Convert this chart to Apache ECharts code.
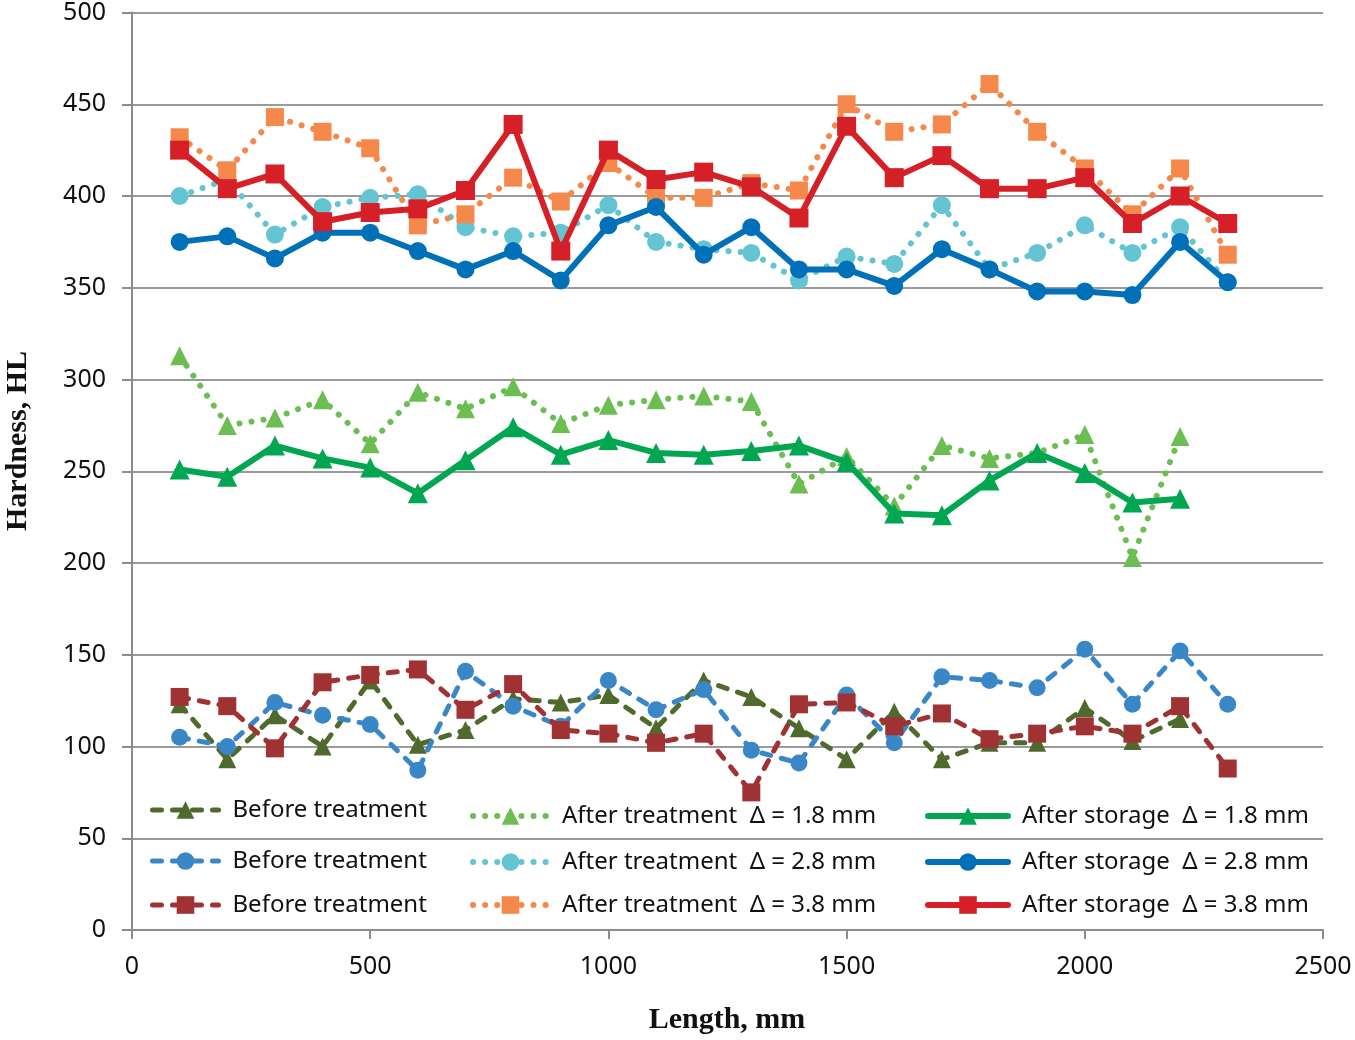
<!DOCTYPE html>
<html>
<head>
<meta charset="utf-8">
<script src="https://cdn.jsdelivr.net/npm/echarts@6/dist/echarts.min.js"></script>
<style>
html,body{margin:0;padding:0;background:#fff;}
#chart{width:1355px;height:1040px;}
</style>
</head>
<body>
<div id="chart"></div>
<script>
// ---- data ----
var lengths = [100,200,300,400,500,600,700,800,900,1000,1100,1200,1300,1400,1500,1600,1700,1800,1900,2000,2100,2200,2300];
var xTicks = [0,500,1000,1500,2000,2500];
var yTicks = [0,50,100,150,200,250,300,350,400,450,500];

var before18 = [123,93,117,100,136,101,109,126,124,128,110,136,127,110,93,119,93,102,102,121,103,115];
var before28 = [105,100,124,117,112,87,141,122,111,136,120,131,98,91,128,102,138,136,132,153,123,152,123];
var before38 = [127,122,99,135,139,142,120,134,109,107,102,107,75,123,124,111,118,104,107,111,107,122,88];

var afterT18 = [313,275,279,289,265,293,284,296,276,286,289,291,288,243,258,231,264,257,260,270,203,269];
var afterT28 = [400,409,379,394,399,401,383,378,380,395,375,371,369,354,367,363,395,360,369,384,369,383,353];
var afterT38 = [432,414,443,435,426,384,390,410,397,418,399,399,407,403,450,435,439,461,435,415,390,415,368];

var afterS18 = [251,247,264,257,252,238,256,274,259,267,260,259,261,264,255,227,226,245,260,249,233,235];
var afterS28 = [375,378,366,380,380,370,360,370,354,384,394,368,383,360,360,351,371,360,348,348,346,375,353];
var afterS38 = [425,404,412,386,391,393,403,439,370,425,409,413,405,388,438,410,422,404,404,410,385,400,385];

var seriesNames = [
  'Before treatment Δ = 1.8 mm', 'Before treatment Δ = 2.8 mm', 'Before treatment Δ = 3.8 mm',
  'After treatment  Δ = 1.8 mm', 'After treatment  Δ = 2.8 mm', 'After treatment  Δ = 3.8 mm',
  'After storage  Δ = 1.8 mm', 'After storage  Δ = 2.8 mm', 'After storage  Δ = 3.8 mm'
];
var legendLabels = [
  'Before treatment', 'Before treatment', 'Before treatment',
  'After treatment  Δ = 1.8 mm', 'After treatment  Δ = 2.8 mm', 'After treatment  Δ = 3.8 mm',
  'After storage  Δ = 1.8 mm', 'After storage  Δ = 2.8 mm', 'After storage  Δ = 3.8 mm'
];
var seriesValues = [before18, before28, before38, afterT18, afterT28, afterT38, afterS18, afterS28, afterS38];

// ---- styles ----
var colors = ['#4F6A2C','#3A87C8','#A03234','#6DBE52','#65C4D2','#F4894B','#00A650','#0071B9','#D52027'];
var symbols = ['triangle','circle','rect','triangle','circle','rect','triangle','circle','rect'];
var symbolSizes = [18,17,18,19,18,18,20,18,19];
var lineTypes = [[9,11],[9,11],[9,11],[0.1,12],[0.1,12],[0.1,12],'solid','solid','solid'];
var lineWidths = [5,5,5,6,6,6,6,6,6];
var legendPos = [
  [150,810,66],[150,861,66],[150,905,66],
  [470,816,75],[470,862,75],[470,905,75],
  [925,816,80],[925,862,80],[925,905,80]
];

function pairs(vals){
  var out = [];
  for (var i = 0; i < vals.length; i++) out.push([lengths[i], vals[i]]);
  return out;
}

var labelMap = {};
seriesNames.forEach(function(n,i){ labelMap[n] = legendLabels[i]; });

var series = seriesNames.map(function(n,i){
  return {
    name: n,
    type: 'line',
    data: pairs(seriesValues[i]),
    symbol: symbols[i],
    symbolSize: symbolSizes[i],
    showSymbol: true,
    itemStyle: {color: colors[i]},
    lineStyle: {color: colors[i], width: lineWidths[i], type: lineTypes[i], cap: 'round', join: 'round'},
    z: 2 + i,
    animation: false
  };
});

var legends = seriesNames.map(function(n,i){
  var p = legendPos[i];
  return {
    data: [n],
    left: p[0],
    top: p[1] - 14,
    padding: 0,
    itemWidth: p[2],
    itemHeight: 22,
    selectedMode: false,
    formatter: function(name){ return labelMap[name]; },
    lineStyle: {width: lineWidths[i], type: lineTypes[i], cap: 'round', color: colors[i]},
    textStyle: {fontFamily: 'Noto Sans', fontSize: 24, color: '#111', lineHeight: 28, padding: [0,0,0,9]}
  };
});

var chart = echarts.init(document.getElementById('chart'));
chart.setOption({
  backgroundColor: '#ffffff',
  animation: false,
  grid: {left: 132, right: 32, top: 12, bottom: 110, containLabel: false},
  xAxis: {
    type: 'value', min: xTicks[0], max: xTicks[xTicks.length-1], interval: 500,
    axisLine: {show: true, lineStyle: {color: '#8c8c8c', width: 2}},
    axisTick: {show: true, length: 9, lineStyle: {color: '#8c8c8c', width: 2}},
    splitLine: {show: false},
    axisLabel: {fontFamily: 'Noto Sans', fontSize: 25, color: '#111', margin: 24,
      formatter: function(v){ return String(v); }}
  },
  yAxis: {
    type: 'value', min: yTicks[0], max: yTicks[yTicks.length-1], interval: 50,
    axisLine: {show: true, lineStyle: {color: '#8c8c8c', width: 2}},
    axisTick: {show: true, length: 10, lineStyle: {color: '#8c8c8c', width: 2}},
    splitLine: {show: true, lineStyle: {color: '#9a9a9a', width: 2}},
    axisLabel: {fontFamily: 'Noto Sans', fontSize: 25, color: '#111', margin: 26,
      formatter: function(v){ return String(v); }}
  },
  legend: legends,
  graphic: [
    {type: 'text', x: 18, y: 441, rotation: Math.PI/2,
     style: {text: 'Hardness, HL', font: 'bold 30px "Liberation Serif"', fill: '#111', textAlign: 'center', textVerticalAlign: 'middle'}},
    {type: 'text', x: 727, y: 1020,
     style: {text: 'Length, mm', font: 'bold 30px "Liberation Serif"', fill: '#111', textAlign: 'center', textVerticalAlign: 'middle'}}
  ],
  series: series
});
</script>
</body>
</html>
